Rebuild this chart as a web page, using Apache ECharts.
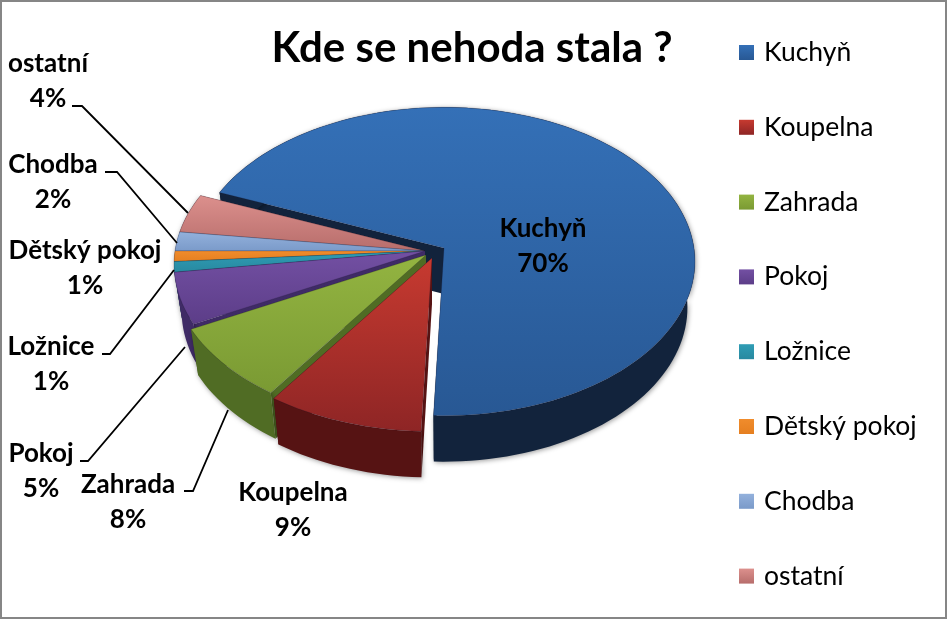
<!DOCTYPE html>
<html><head><meta charset="utf-8"><style>html,body{margin:0;padding:0;background:#fff}#c{width:947px;height:619px}</style>
<script src="https://cdn.jsdelivr.net/npm/echarts@6/dist/echarts.min.js"></script></head>
<body><div id="c"></div><script>
const categories=['Kuchyň','Koupelna','Zahrada','Pokoj','Ložnice','Dětský pokoj','Chodba','ostatní'];
const values=[69.5,9.0,7.8,5.4,1.1,1.1,2.0,4.1];
const titleText='Kde se nehoda stala ?';

const topColors=[['#3470b7','#285894'],['#c73a30','#8e2525'],['#93b441','#7a9a33'],['#7350a3','#5c3d88'],['#2f9db5','#2889a0'],['#f08c2c','#e57f20'],['#93b1dc','#7a9ac9'],['#dc908d','#b76d6b']];
const wallColors=['#12233c','#561313','#506c24','#3f2b66','#1b5f70','#a0561a','#4f6a92','#804a48'];
const start=-68, R=250, K=153, P=0.0873, DEPTH=46, SHRINK=0.97, BASE=[425,251];
const offsets=[[19,-3],[7,7],[1,4],[0,0],[0,0],[0,0],[0,0],[0,0]];
const scales=[1,1.035,1.015,1,1,1,1,1];
const labelPos=[[543,246],[293,510],[128,502],[41,471],[51,364],[85,268],[53,182],[48,81]];
const leaders={7:[[72,106],[82,106],[188,213]],6:[[105,172],[117,172],[177,243]],4:[[102,354],[110,354],[174,270]],3:[[80,461],[88,461],[185,347]],2:[[184,491],[193,491],[228,410]]};
const FONT='Lato, Carlito, sans-serif';

const total=values.reduce((a,b)=>a+b,0);
const angles=[];let acc=start;
values.forEach(v=>{const s=acc;acc+=v/total*360;angles.push([s,acc]);});

function rim(i,deg){const a=deg*Math.PI/180,u=Math.sin(a),v=-Math.cos(a),w=1-P*v,s=scales[i];
  const A=[BASE[0]+offsets[i][0],BASE[1]+offsets[i][1]];
  return [A[0]+s*R*u/w,A[1]+s*K*v/w];}
function down(i,p){const ax=BASE[0]+offsets[i][0];return [ax+SHRINK*(p[0]-ax),p[1]+DEPTH];}
function grad(c){return new echarts.graphic.LinearGradient(0,0,0,1,[{offset:0,color:c[0]},{offset:1,color:c[1]}]);}

function render(i){return function(){
  const [a0,a1]=angles[i];
  const apex=[BASE[0]+offsets[i][0],BASE[1]+offsets[i][1]];
  const arc=[];const n=Math.max(4,Math.ceil((a1-a0)/2));
  for(let k=0;k<=n;k++)arc.push(rim(i,a0+(a1-a0)*k/n));
  const low=arc.map(p=>down(i,p));
  const wall=arc.concat(low.slice().reverse());
  const apexLow=down(i,apex);
  const cut1=[arc[0],apex,apexLow,low[0]];
  const cut2=[arc[n],apex,apexLow,low[n]];
  const side={fill:wallColors[i],shadowBlur:5,shadowColor:'rgba(0,0,0,.4)',shadowOffsetX:1,shadowOffsetY:1};
  return {type:'group',silent:true,children:[
    {type:'polygon',shape:{points:cut1},style:{fill:wallColors[i]}},
    {type:'polygon',shape:{points:cut2},style:{fill:wallColors[i]}},
    {type:'polygon',shape:{points:wall},style:side},
    {type:'polygon',shape:{points:[apex].concat(arc)},style:{fill:grad(topColors[i]),stroke:'rgba(20,15,40,.35)',lineWidth:.6}}
  ]};
};}

const drawOrder=[0,7,6,5,4,3,2,1];
const series=drawOrder.map(i=>({type:'custom',name:categories[i],coordinateSystem:'none',silent:true,
  itemStyle:{color:grad(topColors[i])},data:[values[i]],renderItem:render(i),animation:false}));

const graphics=[{type:'rect',silent:true,z:0,shape:{x:1,y:1,width:945,height:617},style:{fill:'none',stroke:'#868686',lineWidth:2}}];
categories.forEach((c,i)=>{
  graphics.push({type:'text',silent:true,z:100,x:labelPos[i][0],y:labelPos[i][1],style:{text:c+'\n'+Math.round(values[i])+'%',font:'bold 26px '+FONT,fill:'#000',align:'center',verticalAlign:'middle',lineHeight:34.5}});
  if(leaders[i])graphics.push({type:'polyline',silent:true,z:100,shape:{points:leaders[i]},style:{fill:'none',stroke:'#000',lineWidth:1.8}});
});

const chart=echarts.init(document.getElementById('c'),null,{renderer:'canvas'});
chart.setOption({animation:false,backgroundColor:'#fff',
  title:{text:titleText,left:467,top:22,textAlign:'center',textStyle:{fontFamily:FONT,fontWeight:'bold',fontSize:42,color:'#000'}},
  legend:{data:categories,orient:'vertical',left:734,top:34,icon:'rect',itemWidth:15,itemHeight:15,itemGap:47.8,selectedMode:false,textStyle:{fontFamily:FONT,fontSize:26.5,color:'#000',padding:[0,0,0,5]}},
  graphic:graphics,series});
</script></body></html>
